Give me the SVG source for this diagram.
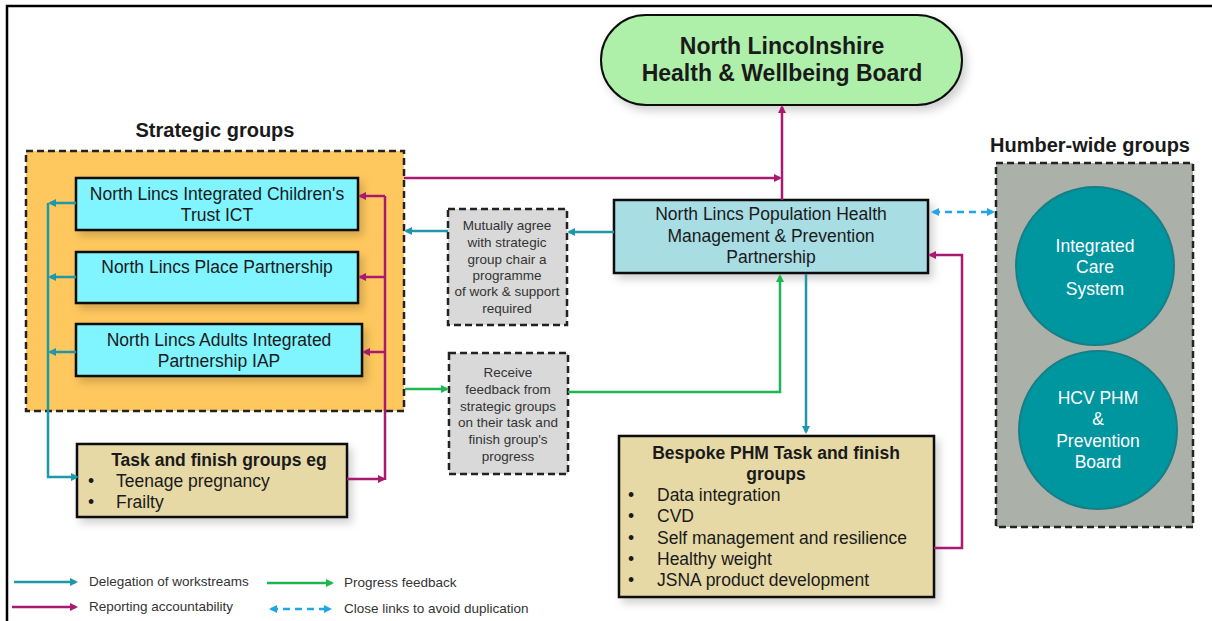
<svg xmlns="http://www.w3.org/2000/svg" width="1212" height="621" viewBox="0 0 1212 621">
<defs>
<style>
text{font-family:"Liberation Sans",Arial,sans-serif;fill:#1a1a1a}
.t16{font-size:17.5px;text-anchor:middle}
.bl{font-size:17.5px}
.b{font-weight:bold}
.s12{font-size:13.5px;text-anchor:middle;fill:#333}
.lg{font-size:13.5px;fill:#333}
.w{fill:#fff;font-size:17.5px;text-anchor:middle}
.box{stroke:#111;stroke-width:2.5}
.dash{stroke:#222;stroke-width:2.5;stroke-dasharray:7 4}
.teal{stroke:#1E98A8;stroke-width:2.5;fill:none}
.mag{stroke:#A8196F;stroke-width:2.5;fill:none}
.grn{stroke:#1DB650;stroke-width:2.5;fill:none}
.blu{stroke:#1EA6E6;stroke-width:2.5;fill:none;stroke-dasharray:7 5}
</style>
<marker id="aT" markerWidth="8" markerHeight="8" refX="6" refY="4" orient="auto" markerUnits="userSpaceOnUse"><path d="M0,0 L8,4 L0,8 Z" fill="#1E98A8"/></marker>
<marker id="aM" markerWidth="8" markerHeight="8" refX="6" refY="4" orient="auto" markerUnits="userSpaceOnUse"><path d="M0,0 L8,4 L0,8 Z" fill="#A8196F"/></marker>
<marker id="aG" markerWidth="8" markerHeight="8" refX="6" refY="4" orient="auto" markerUnits="userSpaceOnUse"><path d="M0,0 L8,4 L0,8 Z" fill="#1DB650"/></marker>
<marker id="aB" markerWidth="8" markerHeight="8" refX="6" refY="4" orient="auto-start-reverse" markerUnits="userSpaceOnUse"><path d="M0,0 L8,4 L0,8 Z" fill="#1EA6E6"/></marker>
<filter id="sh" x="-10%" y="-10%" width="130%" height="140%"><feDropShadow dx="4" dy="5" stdDeviation="4" flood-color="#000" flood-opacity="0.18"/></filter>
</defs>
<rect width="1212" height="621" fill="#fff"/>
<path d="M7,621 V6 H1212" fill="none" stroke="#000" stroke-width="2.5"/>

<g id="hwb">
<rect x="601" y="15" width="361" height="90" rx="45" ry="45" fill="#AEEFAA" stroke="#111" stroke-width="2" filter="url(#sh)"/>
<text class="b" x="782" y="54" font-size="23" text-anchor="middle">North Lincolnshire</text>
<text class="b" x="782" y="81" font-size="23" text-anchor="middle">Health &amp; Wellbeing Board</text>
</g>

<g id="strategic">
<text class="b" x="215" y="137" font-size="20" text-anchor="middle">Strategic groups</text>
<rect x="26" y="151" width="378" height="260" fill="#FFC85E" class="dash"/>
</g>
<g id="ict">
<rect x="76" y="178" width="282" height="52" fill="#80F4FF" class="box" filter="url(#sh)"/>
<text class="t16" x="217" y="200">North Lincs Integrated Children's</text>
<text class="t16" x="217" y="221">Trust ICT</text>
</g>
<g id="place">
<rect x="76" y="252" width="282" height="51" fill="#80F4FF" class="box" filter="url(#sh)"/>
<text class="t16" x="217" y="273">North Lincs Place Partnership</text>
</g>
<g id="iap">
<rect x="76" y="324" width="286" height="52" fill="#80F4FF" class="box" filter="url(#sh)"/>
<text class="t16" x="219" y="346">North Lincs Adults Integrated</text>
<text class="t16" x="219" y="367">Partnership IAP</text>
</g>

<g id="taskfinish">
<rect x="77" y="444" width="270" height="73" fill="#E6D9A6" class="box" filter="url(#sh)"/>
<text class="t16 b" x="219" y="466">Task and finish groups eg</text>
<text class="bl" x="88" y="487">•</text>
<text class="bl" x="116" y="487">Teenage pregnancy</text>
<text class="bl" x="88" y="508">•</text>
<text class="bl" x="116" y="508">Frailty</text>
</g>

<g id="agree">
<rect x="448" y="209" width="119" height="116" fill="#D9D9D9" class="dash"/>
<text class="s12" x="507" y="230">Mutually agree</text>
<text class="s12" x="507" y="247">with strategic</text>
<text class="s12" x="507" y="264">group chair a</text>
<text class="s12" x="507" y="280">programme</text>
<text class="s12" x="507" y="296">of work &amp; support</text>
<text class="s12" x="507" y="313">required</text>
</g>

<g id="receive">
<rect x="449" y="353" width="119" height="121" fill="#D9D9D9" class="dash"/>
<text class="s12" x="508" y="377">Receive</text>
<text class="s12" x="508" y="394">feedback from</text>
<text class="s12" x="508" y="411">strategic groups</text>
<text class="s12" x="508" y="427">on their task and</text>
<text class="s12" x="508" y="444">finish group's</text>
<text class="s12" x="508" y="461">progress</text>
</g>

<g id="phm">
<rect x="614" y="200" width="314" height="73" fill="#A9DDE4" class="box" filter="url(#sh)"/>
<text class="t16" x="771" y="220">North Lincs Population Health</text>
<text class="t16" x="771" y="242">Management &amp; Prevention</text>
<text class="t16" x="771" y="263">Partnership</text>
</g>

<g id="bespoke">
<rect x="619" y="436" width="315" height="161" fill="#E6D9A6" class="box" filter="url(#sh)"/>
<text class="t16 b" x="776" y="459">Bespoke PHM Task and finish</text>
<text class="t16 b" x="776" y="480">groups</text>
<text class="bl" x="628" y="501">•</text><text class="bl" x="657" y="501">Data integration</text>
<text class="bl" x="628" y="522">•</text><text class="bl" x="657" y="522">CVD</text>
<text class="bl" x="628" y="544">•</text><text class="bl" x="657" y="544">Self management and resilience</text>
<text class="bl" x="628" y="565">•</text><text class="bl" x="657" y="565">Healthy weight</text>
<text class="bl" x="628" y="586">•</text><text class="bl" x="657" y="586">JSNA product development</text>
</g>

<g id="humber">
<text class="b" x="1090" y="152" font-size="20" text-anchor="middle">Humber-wide groups</text>
<rect x="996" y="163" width="197" height="364" fill="#ABB0A9" class="dash"/>
</g>
<g id="ics">
<circle cx="1095" cy="266" r="79" fill="#00969F" stroke="#177E86" stroke-width="2"/>
<text class="w" x="1095" y="252">Integrated</text>
<text class="w" x="1095" y="273">Care</text>
<text class="w" x="1095" y="295">System</text>
</g>
<g id="hcv">
<circle cx="1098" cy="430" r="79" fill="#00969F" stroke="#177E86" stroke-width="2"/>
<text class="w" x="1098" y="404">HCV PHM</text>
<text class="w" x="1098" y="425">&amp;</text>
<text class="w" x="1098" y="447">Prevention</text>
<text class="w" x="1098" y="468">Board</text>
</g>

<g id="connectors">
<path class="teal" d="M76,203 H50" marker-end="url(#aT)"/>
<path class="teal" d="M76,277 H50" marker-end="url(#aT)"/>
<path class="teal" d="M76,352 H50" marker-end="url(#aT)"/>
<path class="teal" d="M48,203 V477 H77" marker-end="url(#aT)"/>
<path class="teal" d="M614,232 H569" marker-end="url(#aT)"/>
<path class="teal" d="M448,231 H406" marker-end="url(#aT)"/>
<path class="teal" d="M806,274 V432" marker-end="url(#aT)"/>
<path class="mag" d="M347,479 H384" marker-end="url(#aM)"/>
<path class="mag" d="M385,480 V196"/>
<path class="mag" d="M385,196 H360" marker-end="url(#aM)"/>
<path class="mag" d="M385,277 H360" marker-end="url(#aM)"/>
<path class="mag" d="M385,352 H364" marker-end="url(#aM)"/>
<path class="mag" d="M404,178 H780" marker-end="url(#aM)"/>
<path class="mag" d="M782,200 V107" marker-end="url(#aM)"/>
<path class="mag" d="M934,548 H962 V255 H930" marker-end="url(#aM)"/>
<path class="grn" d="M405,389 H447" marker-end="url(#aG)"/>
<path class="grn" d="M568,392 H780 V276" marker-end="url(#aG)"/>
<path class="blu" d="M933,212 H993" marker-start="url(#aB)" marker-end="url(#aB)"/>
</g>

<g id="legend">
<path class="teal" d="M14,582 H76" marker-end="url(#aT)"/>
<text class="lg" x="89" y="586">Delegation of workstreams</text>
<path class="mag" d="M12,607 H76" marker-end="url(#aM)"/>
<text class="lg" x="89" y="611">Reporting accountability</text>
<path class="grn" d="M267,583 H332" marker-end="url(#aG)"/>
<text class="lg" x="344" y="587">Progress feedback</text>
<path class="blu" d="M271,609 H330" marker-start="url(#aB)" marker-end="url(#aB)"/>
<text class="lg" x="344" y="613">Close links to avoid duplication</text>
</g>
</svg>
